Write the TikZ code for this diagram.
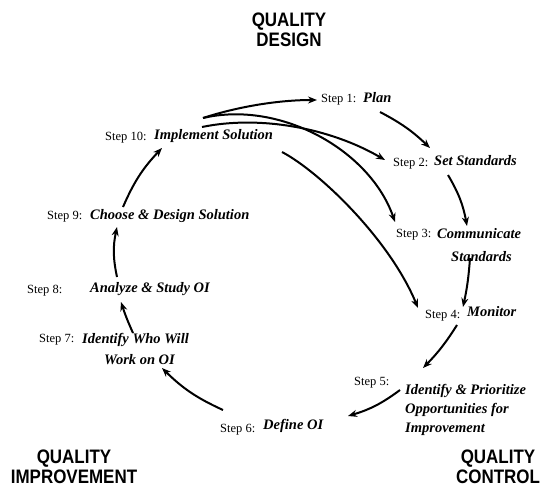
\documentclass[tikz,border=0pt]{standalone}
\usepackage{fontspec}
\setmainfont{Liberation Serif}
\newfontfamily\headfont{Liberation Sans}[FakeStretch=0.87]
\usetikzlibrary{arrows.meta}
\begin{document}
\begin{tikzpicture}[x=1pt,y=-1pt,
  steplbl/.style={anchor=base west, inner sep=0pt, font=\fontsize{12.5}{14}\selectfont},
  stepttl/.style={anchor=base west, inner sep=0pt, font=\fontsize{14.5}{17}\selectfont\bfseries\itshape},
  headline/.style={anchor=base, inner sep=0pt, font=\headfont\bfseries\fontsize{19.5}{20}\selectfont},
  flow/.style={line width=2pt, -{Stealth[length=9pt,width=7pt]}}]
\useasboundingbox (0,0) rectangle (543,487);
% headings
\node[headline] (qd1) at (289,27) {QUALITY};
\node[headline] (qd2) at (289,47) {DESIGN};
\node[headline] (qi1) at (74,463) {QUALITY};
\node[headline] (qi2) at (74,483) {IMPROVEMENT};
\node[headline] (qc1) at (498,463) {QUALITY};
\node[headline] (qc2) at (498,483) {CONTROL};
% steps
\node[steplbl] (s1) at (321,102) {Step 1:};
\node[stepttl] (t1) at (363,102) {Plan};
\node[steplbl] (s10) at (105,140) {Step 10:};
\node[stepttl] (t10) at (154,139) {Implement Solution};
\node[steplbl] (s2) at (393,166) {Step 2:};
\node[stepttl] (t2) at (434,165) {Set Standards};
\node[steplbl] (s3) at (396,237) {Step 3:};
\node[stepttl] (t3a) at (437,238) {Communicate};
\node[stepttl] (t3b) at (451,261) {Standards};
\node[steplbl] (s4) at (425,318) {Step 4:};
\node[stepttl] (t4) at (467,316) {Monitor};
\node[steplbl] (s5) at (354,385) {Step 5:};
\node[stepttl] (t5a) at (405,394) {Identify \& Prioritize};
\node[stepttl] (t5b) at (405,413) {Opportunities for};
\node[stepttl] (t5c) at (405,432) {Improvement};
\node[steplbl] (s6) at (220,432) {Step 6:};
\node[stepttl] (t6) at (263,429) {Define OI};
\node[steplbl] (s7) at (39,342) {Step 7:};
\node[stepttl] (t7a) at (82,343) {Identify Who Will};
\node[stepttl] (t7b) at (104,364) {Work on OI};
\node[steplbl] (s8) at (27,293) {Step 8:};
\node[stepttl] (t8) at (90,292) {Analyze \& Study OI};
\node[steplbl] (s9) at (47,219) {Step 9:};
\node[stepttl] (t9) at (90,219) {Choose \& Design Solution};
% arrow end points
\coordinate (a10) at (203,118);
\coordinate (b10) at (202,127);
\coordinate (c10) at (282,152);
\coordinate (e1) at (317,100);
\coordinate (o1) at (380,112);
\coordinate (e2) at (430,148);
\coordinate (f2) at (385,160);
\coordinate (o2) at (448,175);
\coordinate (e3) at (467,226);
\coordinate (f3) at (395,222);
\coordinate (o3) at (470,258);
\coordinate (e4) at (463,307);
\coordinate (f4) at (418,308);
\coordinate (o4) at (457,325);
\coordinate (e5) at (423,368);
\coordinate (o5) at (400,390);
\coordinate (e6) at (348,416);
\coordinate (o6) at (223,410);
\coordinate (e7) at (162,368);
\coordinate (o7) at (133,333);
\coordinate (e8) at (121,302);
\coordinate (o8) at (117,277);
\coordinate (e9) at (117,227);
\coordinate (o9) at (123,207);
\coordinate (e10) at (162,148);
% connectors
\draw[flow] (a10) .. controls (240,106) and (280,100) .. (e1);
\draw[flow] (b10) .. controls (260,115) and (330,128) .. (f2);
\draw[flow] (a10) .. controls (280,100) and (370,150) .. (f3);
\draw[flow] (c10) .. controls (320,172) and (390,240) .. (f4);
\draw[flow] (o1) to[bend left=8] (e2);
\draw[flow] (o2) to[bend left=10] (e3);
\draw[flow] (o3) to[bend left=4] (e4);
\draw[flow] (o4) to[bend left=6] (e5);
\draw[flow] (o5) to[bend left=10] (e6);
\draw[flow] (o6) to[bend left=10] (e7);
\draw[flow] (o7) to[bend left=3] (e8);
\draw[flow] (o8) to[bend left=12] (e9);
\draw[flow] (o9) to[bend left=10] (e10);
\end{tikzpicture}
\end{document}
